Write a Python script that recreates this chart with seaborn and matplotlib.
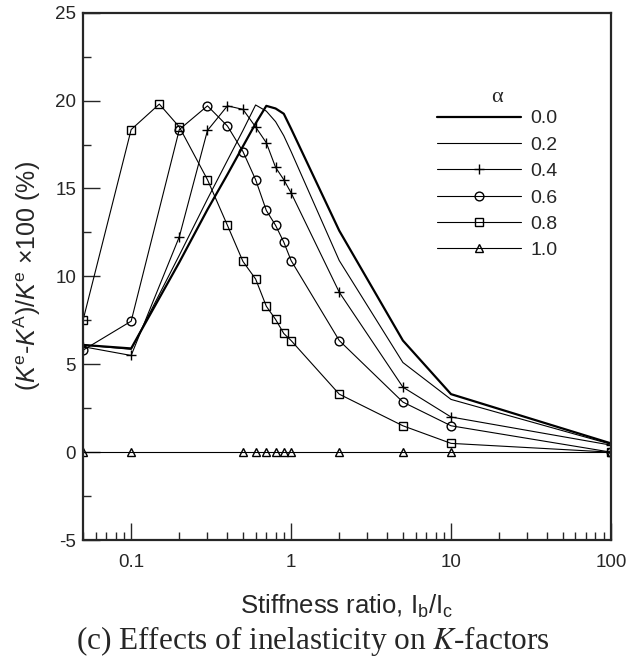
import matplotlib
matplotlib.use("Agg")
import matplotlib.pyplot as plt
import matplotlib.ticker as mticker
import pandas as pd
import seaborn as sns

# stiffness ratio Ib/Ic for each alpha series
x_00 = [0.05, 0.1, 0.2, 0.3, 0.4, 0.5, 0.6, 0.7, 0.8, 0.9, 1.0, 2, 5, 10, 100]
y_00 = [6.1, 5.9, 10.8, 13.8, 15.8, 17.4, 18.7, 19.7, 19.55, 19.25, 18.4, 12.6, 6.35, 3.3, 0.5]

x_02 = [0.05, 0.1, 0.2, 0.3, 0.4, 0.5, 0.6, 0.7, 0.8, 0.9, 1.0, 2, 5, 10, 100]
y_02 = [6.1, 5.85, 11.2, 14.4, 16.6, 18.3, 19.75, 19.4, 18.8, 18.0, 17.1, 10.9, 5.1, 3.0, 0.45]

x_04 = [0.05, 0.1, 0.2, 0.3, 0.4, 0.5, 0.6, 0.7, 0.8, 0.9, 1.0, 2, 5, 10, 100]
y_04 = [6.0, 5.5, 12.25, 18.3, 19.7, 19.5, 18.5, 17.6, 16.2, 15.5, 14.75, 9.1, 3.7, 2.0, 0.4]

x_06 = [0.05, 0.1, 0.2, 0.3, 0.4, 0.5, 0.6, 0.7, 0.8, 0.9, 1.0, 2, 5, 10, 100]
y_06 = [5.8, 7.45, 18.35, 19.7, 18.55, 17.1, 15.5, 13.75, 12.9, 11.95, 10.9, 6.35, 2.85, 1.5, 0.0]

x_08 = [0.05, 0.1, 0.15, 0.2, 0.3, 0.4, 0.5, 0.6, 0.7, 0.8, 0.9, 1.0, 2, 5, 10, 100]
y_08 = [7.5, 18.35, 19.8, 18.5, 15.5, 12.9, 10.85, 9.85, 8.3, 7.55, 6.75, 6.35, 3.3, 1.5, 0.5, 0.0]

x_10 = [0.05, 0.1, 0.5, 0.6, 0.7, 0.8, 0.9, 1.0, 2, 5, 10, 100]
y_10 = [0, 0, 0, 0, 0, 0, 0, 0, 0, 0, 0, 0]

alpha_labels = ["0.0", "0.2", "0.4", "0.6", "0.8", "1.0"]

series = [
    (x_00, y_00, None, 1.6),
    (x_02, y_02, None, 0.8),
    (x_04, y_04, "+", 0.8),
    (x_06, y_06, "o", 0.8),
    (x_08, y_08, "s", 0.8),
    (x_10, y_10, "^", 0.8),
]
marker_size = {"+": 7, "o": 6.3, "s": 5.6, "^": 5.8}

sns.set_style("ticks")
plt.rcParams["font.family"] = ["Liberation Sans", "DejaVu Sans"]
plt.rcParams["mathtext.fontset"] = "custom"
plt.rcParams["mathtext.rm"] = "Liberation Sans"
plt.rcParams["mathtext.it"] = "Liberation Sans:italic"
plt.rcParams["axes.unicode_minus"] = False

fig = plt.figure(figsize=(6.26, 6.57), dpi=100)
ax = fig.add_axes([0.1326, 0.178, 0.8434, 0.8027])

for (xs, ys, mk, lw), lab in zip(series, alpha_labels):
    df = pd.DataFrame({"x": xs, "y": ys})
    kws = dict(color="black", lw=lw, label=lab, estimator=None, errorbar=None)
    if mk is not None:
        kws.update(marker=mk, ms=marker_size[mk], mfc="none", mec="black", mew=1.0)
    sns.lineplot(data=df, x="x", y="y", ax=ax, **kws)

ax.set_xscale("log")
ax.set_xlim(0.05, 100)
ax.set_ylim(-5, 25)
ax.set_yticks([-5, 0, 5, 10, 15, 20, 25])
ax.yaxis.set_minor_locator(mticker.MultipleLocator(2.5))
ax.xaxis.set_major_locator(mticker.FixedLocator([0.1, 1, 10, 100]))
ax.xaxis.set_major_formatter(mticker.FixedFormatter(["0.1", "1", "10", "100"]))
ax.xaxis.set_minor_locator(mticker.LogLocator(base=10, subs=range(2, 10), numticks=20))
ax.xaxis.set_minor_formatter(mticker.NullFormatter())

ax.tick_params(which="both", direction="in", top=False, right=False, labelsize=13.5, width=1)
ax.tick_params(which="major", length=12)
ax.tick_params(which="minor", length=6)
ax.tick_params(axis="x", which="major", pad=10)
ax.tick_params(axis="y", which="major", pad=5)
for sp in ax.spines.values():
    sp.set_linewidth(1.6)

ax.set_xlabel("Stiffness ratio, I$_{\\mathrm{b}}$/I$_{\\mathrm{c}}$", fontsize=18.5, labelpad=16)
ax.set_ylabel("($K^{\\mathrm{e}}$-$K^{\\mathrm{A}}$)/$K^{\\mathrm{e}}$ ×100 (%)", fontsize=18, labelpad=9)

ax.legend(loc="upper left", bbox_to_anchor=(0.638, 0.849), frameon=False,
          fontsize=14, handlelength=4.3, labelspacing=0.45, handletextpad=0.5)
ax.text(0.784, 0.84, "α", transform=ax.transAxes, ha="center", va="center",
        fontsize=16, family=["Liberation Serif", "DejaVu Serif"])

fig.text(0.5, 0.025, "(c) Effects of inelasticity on $K$-factors", ha="center", va="center",
         fontsize=22.5, family="Liberation Serif", math_fontfamily="stix")

fig.savefig("out.png", dpi=100)
